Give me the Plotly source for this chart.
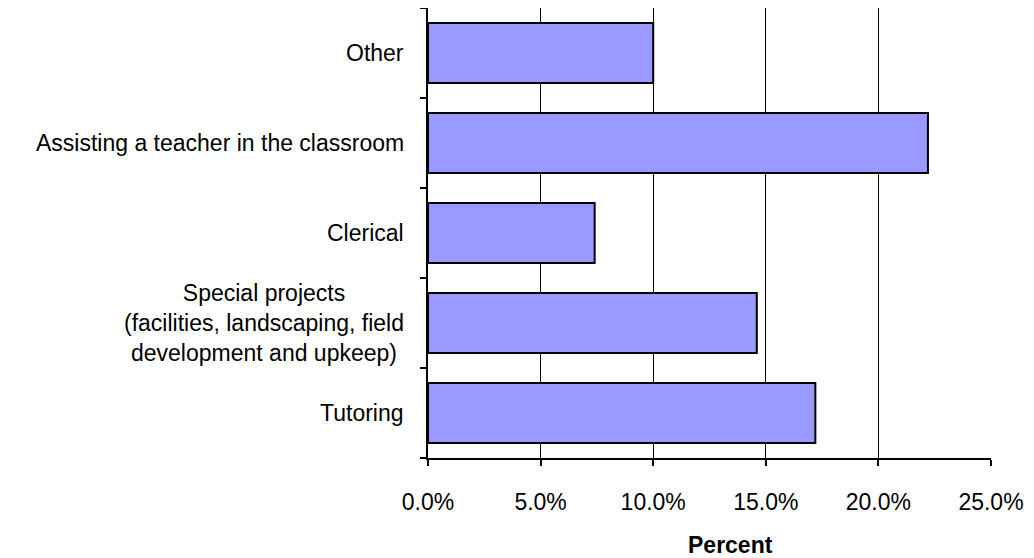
import plotly.graph_objects as go

# Data (bottom-to-top order for plotly categorical axis)
categories = [
    "Tutoring",
    "Special projects<br>(facilities, landscaping, field<br>development and upkeep)",
    "Clerical",
    "Assisting a teacher in the classroom",
    "Other",
]
percent_values = [0.172, 0.146, 0.074, 0.222, 0.100]
x_tick_values = [0.0, 0.05, 0.10, 0.15, 0.20, 0.25]
x_axis_title = "Percent"

FONT = "Liberation Sans, Arial, sans-serif"
FS = 23

fig = go.Figure()
fig.add_trace(go.Bar(
    x=percent_values,
    y=categories,
    orientation="h",
    marker=dict(color="#9999FF", line=dict(color="#000000", width=2)),
    hoverinfo="x+y",
))

# Category labels as annotations so multi-line text is centred
for cat in categories:
    fig.add_annotation(
        x=0, xref="paper", y=cat, yref="y",
        text=cat, showarrow=False,
        xanchor="right", yanchor="middle", align="center",
        xshift=-22,
        font=dict(family=FONT, size=FS, color="#000000"),
    )

fig.add_annotation(
    x=0.538, xref="paper", y=0, yref="paper",
    text="<b>" + x_axis_title + "</b>", showarrow=False,
    xanchor="center", yanchor="middle", yshift=-87,
    font=dict(family=FONT, size=FS, color="#000000"),
)

# page body has an 8px margin, so the figure is sized to fit the window
fig.update_layout(
    width=1026, height=550,
    margin=dict(l=420, r=43, t=0, b=100, pad=0),
    paper_bgcolor="#FFFFFF", plot_bgcolor="#FFFFFF",
    bargap=0.333,
    showlegend=False,
    font=dict(family=FONT, size=FS, color="#000000"),
    xaxis=dict(
        range=[0, 0.25],
        tickvals=x_tick_values,
        tickformat=".1%",
        showgrid=True, gridcolor="#000000", gridwidth=1,
        showline=True, linecolor="#000000", linewidth=2,
        ticks="outside", ticklen=6, tickwidth=2, tickcolor="#000000",
        ticklabelstandoff=16,
        tickfont=dict(family=FONT, size=FS, color="#000000"),
        zeroline=False,
        fixedrange=True,
    ),
    yaxis=dict(
        type="category",
        categoryorder="array", categoryarray=categories,
        showticklabels=False,
        tickson="boundaries",
        ticks="outside", ticklen=6, tickwidth=2, tickcolor="#000000",
        showline=True, linecolor="#000000", linewidth=2,
        showgrid=False, zeroline=False,
        fixedrange=True,
    ),
)

fig.write_html("out.html")
